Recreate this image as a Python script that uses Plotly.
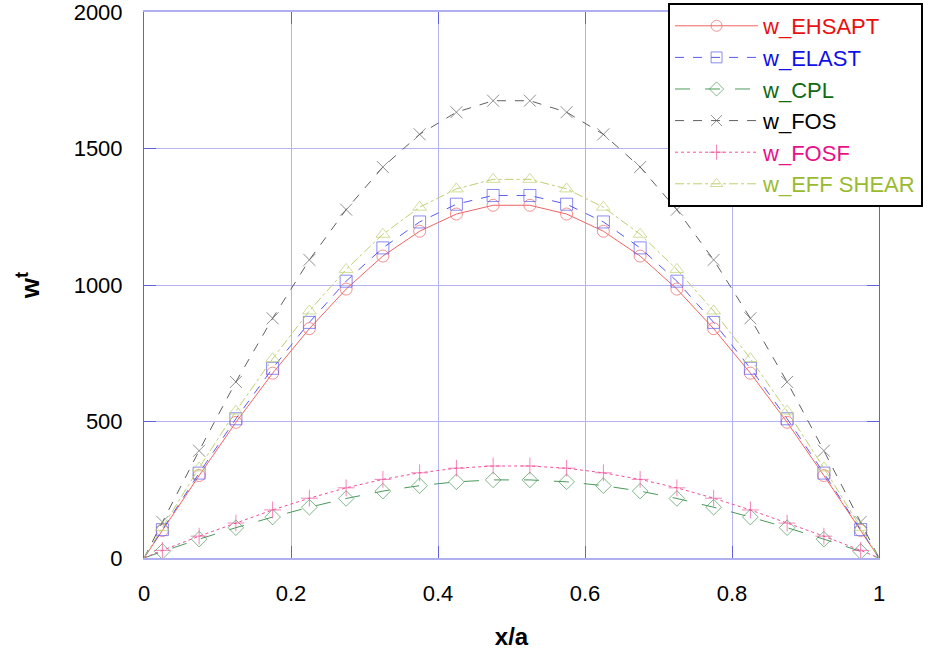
import plotly.graph_objects as go

# x positions (x/a); endpoints 0 and 1 carry line only, interior points carry markers
x_vals = [0.0, 0.025, 0.075, 0.125, 0.175, 0.225, 0.275, 0.325, 0.375, 0.425, 0.475,
          0.525, 0.575, 0.625, 0.675, 0.725, 0.775, 0.825, 0.875, 0.925, 0.975, 1.0]

w_ehsapt = [0, 101, 302, 497, 677, 840, 985, 1106, 1197, 1260, 1292,
            1292, 1260, 1197, 1106, 985, 840, 677, 497, 302, 101, 0]
w_elast = [0, 104, 311, 510, 695, 863, 1014, 1136, 1231, 1296, 1328,
           1328, 1296, 1231, 1136, 1014, 863, 695, 510, 311, 104, 0]
w_cpl = [0, 24, 69, 111, 150, 186, 218, 245, 265, 279, 286,
         286, 279, 265, 245, 218, 186, 150, 111, 69, 24, 0]
w_fos = [0, 132, 393, 645, 878, 1092, 1276, 1432, 1552, 1633, 1675,
         1675, 1633, 1552, 1432, 1276, 1092, 878, 645, 393, 132, 0]
w_fosf = [0, 28, 80, 128, 176, 219, 257, 288, 312, 329, 337,
          337, 329, 312, 288, 257, 219, 176, 128, 80, 28, 0]
w_eff_shear = [0, 112, 330, 538, 730, 905, 1057, 1186, 1285, 1352, 1387,
               1387, 1352, 1285, 1186, 1057, 905, 730, 538, 330, 112, 0]

x_ticks = [0, 0.2, 0.4, 0.6, 0.8, 1]
x_tick_text = ["0", "0.2", "0.4", "0.6", "0.8", "1"]
y_ticks = [0, 500, 1000, 1500, 2000]

series = [
    ("w_EHSAPT", w_ehsapt, "#f06464", "solid", "circle-open", "#e81010"),
    ("w_ELAST", w_elast, "#5a5af0", "dash", "square-open", "#1010e8"),
    ("w_CPL", w_cpl, "#4a9a5a", "longdash", "diamond-open", "#106a10"),
    ("w_FOS", w_fos, "#606060", "dash", "x-thin-open", "#000000"),
    ("w_FOSF", w_fosf, "#f0509a", "dot", "cross-thin-open", "#e8108a"),
    ("w_EFF SHEAR", w_eff_shear, "#bcd070", "dashdot", "triangle-up-open", "#9abb30"),
]

fig = go.Figure()
n = len(x_vals)
sizes = [0] + [12] * (n - 2) + [0]
for name, ys, col, dash, sym, tcol in series:
    fig.add_trace(go.Scatter(
        x=x_vals, y=ys, mode="lines+markers",
        name=f"<span style='color:{tcol}'>{name}</span>",
        line=dict(color=col, width=1, dash=dash),
        marker=dict(symbol=sym, size=sizes, color=col, line=dict(color=col, width=1)),
    ))

fig.update_layout(
    width=934, height=654,
    paper_bgcolor="white", plot_bgcolor="white",
    margin=dict(l=144, r=55, t=12, b=96, autoexpand=False),
    font=dict(family="Liberation Sans, Arial, sans-serif", color="black"),
    legend=dict(
        x=0.713, y=1.0165, xanchor="left", yanchor="top",
        bgcolor="white", bordercolor="black", borderwidth=2,
        font=dict(size=22, family="Liberation Sans, Arial, sans-serif"),
        itemwidth=83, tracegroupgap=0,
    ),
    showlegend=True,
)

fig.update_xaxes(
    range=[0, 1], tickvals=x_ticks, ticktext=x_tick_text,
    showgrid=True, gridcolor="#b4b4f4", gridwidth=1,
    showline=True, linecolor="#b0b0f0", linewidth=2, mirror="allticks",
    ticks="inside", ticklen=12, tickcolor="#6060e0", tickwidth=1,
    tickfont=dict(size=22), ticklabelstandoff=15, ticklabeloverflow="allow",
    zeroline=False, automargin=False,
    title=dict(text="<b>x/a</b>", font=dict(size=24), standoff=23),
)
fig.update_yaxes(
    range=[0, 2000], tickvals=y_ticks,
    showgrid=True, gridcolor="#b4b4f4", gridwidth=1,
    showline=True, linecolor="#6060e0", linewidth=1, mirror="allticks",
    ticks="inside", ticklen=12, tickcolor="#6060e0", tickwidth=1,
    tickfont=dict(size=22), ticklabelstandoff=16, ticklabeloverflow="allow",
    zeroline=False, automargin=False,
    title=dict(text="<b>w<sup>t</sup></b>", font=dict(size=26), standoff=26),
)

fig.write_html("out.html", config={"displayModeBar": False},
               post_script="document.body.style.margin='0px';")
